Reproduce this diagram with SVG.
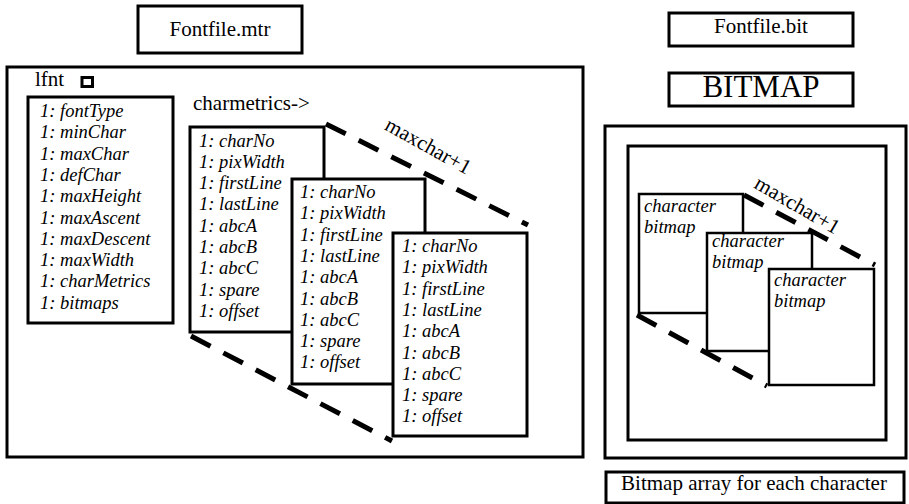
<svg xmlns="http://www.w3.org/2000/svg" width="909" height="504" viewBox="0 0 909 504">
<style>
  .box { fill: #fff; stroke: #000; stroke-width: 3; }
  .frame { fill: none; stroke: #000; stroke-width: 3; }
  .sbox { fill: #fff; stroke: #000; stroke-width: 2.5; }
  .lbl { font-family: "Liberation Serif", "Times New Roman", serif; font-size: 21px; fill: #000; }
  .big { font-family: "Liberation Serif", "Times New Roman", serif; font-size: 31px; fill: #000; }
  .it { font-family: "Liberation Serif", "Times New Roman", serif; font-size: 18.5px; font-style: italic; fill: #000; }
  .dash { fill: none; stroke: #000; stroke-width: 5; stroke-dasharray: 22 14.5; }
</style>
<rect width="909" height="504" fill="#fff"/>

<g id="fontfile-mtr">
  <rect class="box" x="138" y="6" width="164" height="47"/>
  <text class="lbl" x="220" y="36" text-anchor="middle">Fontfile.mtr</text>
</g>

<g id="lfnt">
  <rect class="box" x="7" y="67" width="576" height="390"/>
  <text class="lbl" x="35" y="86">lfnt</text>
  <rect x="82" y="77.5" width="10.5" height="9" fill="#fff" stroke="#000" stroke-width="3"/>
</g>

<g id="lfnt-fields">
  <rect class="box" x="28" y="97" width="145" height="226"/>
  <text class="it" x="40" y="117">
    <tspan x="40">1: fontType</tspan>
    <tspan x="40" dy="21.3">1: minChar</tspan>
    <tspan x="40" dy="21.3">1: maxChar</tspan>
    <tspan x="40" dy="21.3">1: defChar</tspan>
    <tspan x="40" dy="21.3">1: maxHeight</tspan>
    <tspan x="40" dy="21.3">1: maxAscent</tspan>
    <tspan x="40" dy="21.3">1: maxDescent</tspan>
    <tspan x="40" dy="21.3">1: maxWidth</tspan>
    <tspan x="40" dy="21.3">1: charMetrics</tspan>
    <tspan x="40" dy="21.3">1: bitmaps</tspan>
  </text>
</g>

<g id="charmetrics-label">
  <text class="lbl" x="193" y="110">charmetrics-&gt;</text>
</g>

<g id="fontfile-bit">
  <rect class="box" x="669" y="13" width="184" height="33"/>
  <text class="lbl" x="761" y="33" text-anchor="middle">Fontfile.bit</text>
</g>

<g id="bitmap-title">
  <rect class="box" x="669" y="73" width="184" height="33"/>
  <text class="big" x="761" y="97" text-anchor="middle">BITMAP</text>
</g>

<g id="bitmap-outer">
  <rect class="frame" x="605" y="126" width="301" height="332"/>
</g>

<g id="bitmap-inner">
  <rect class="frame" x="628" y="146" width="258" height="294"/>
</g>

<g id="connectors">
  <line class="dash" x1="326" y1="124" x2="528" y2="225"/>
  <line class="dash" x1="191" y1="336" x2="392" y2="441"/>
  <line class="dash" x1="744" y1="195" x2="875" y2="265" stroke-width="4.5"/>
  <line class="dash" x1="637" y1="315" x2="767" y2="386" stroke-width="4.5"/>
</g>

<g id="maxchar-left">
  <text class="lbl" x="425" y="152" text-anchor="middle" transform="rotate(29 425 152)">maxchar+1</text>
</g>

<g id="maxchar-right">
  <text class="lbl" x="794" y="211" text-anchor="middle" transform="rotate(30 794 211)">maxchar+1</text>
</g>

<g id="charmetric-1">
  <rect class="box" x="190" y="127" width="134" height="205"/>
  <text class="it" x="199" y="146.5">
    <tspan x="199">1: charNo</tspan>
    <tspan x="199" dy="21.3">1: pixWidth</tspan>
    <tspan x="199" dy="21.3">1: firstLine</tspan>
    <tspan x="199" dy="21.3">1: lastLine</tspan>
    <tspan x="199" dy="21.3">1: abcA</tspan>
    <tspan x="199" dy="21.3">1: abcB</tspan>
    <tspan x="199" dy="21.3">1: abcC</tspan>
    <tspan x="199" dy="21.3">1: spare</tspan>
    <tspan x="199" dy="21.3">1: offset</tspan>
  </text>
</g>

<g id="charmetric-2">
  <rect class="box" x="292" y="179" width="133" height="205"/>
  <text class="it" x="300" y="198">
    <tspan x="300">1: charNo</tspan>
    <tspan x="300" dy="21.3">1: pixWidth</tspan>
    <tspan x="300" dy="21.3">1: firstLine</tspan>
    <tspan x="300" dy="21.3">1: lastLine</tspan>
    <tspan x="300" dy="21.3">1: abcA</tspan>
    <tspan x="300" dy="21.3">1: abcB</tspan>
    <tspan x="300" dy="21.3">1: abcC</tspan>
    <tspan x="300" dy="21.3">1: spare</tspan>
    <tspan x="300" dy="21.3">1: offset</tspan>
  </text>
</g>

<g id="charmetric-3">
  <rect class="box" x="393" y="233" width="134" height="203"/>
  <text class="it" x="402" y="252">
    <tspan x="402">1: charNo</tspan>
    <tspan x="402" dy="21.3">1: pixWidth</tspan>
    <tspan x="402" dy="21.3">1: firstLine</tspan>
    <tspan x="402" dy="21.3">1: lastLine</tspan>
    <tspan x="402" dy="21.3">1: abcA</tspan>
    <tspan x="402" dy="21.3">1: abcB</tspan>
    <tspan x="402" dy="21.3">1: abcC</tspan>
    <tspan x="402" dy="21.3">1: spare</tspan>
    <tspan x="402" dy="21.3">1: offset</tspan>
  </text>
</g>

<g id="char-bitmap-1">
  <rect class="sbox" x="639" y="194" width="104" height="119"/>
  <text class="it" x="644" y="212"><tspan x="644">character</tspan><tspan x="644" dy="21">bitmap</tspan></text>
</g>

<g id="char-bitmap-2">
  <rect class="sbox" x="707" y="233" width="105" height="118"/>
  <text class="it" x="712" y="247"><tspan x="712">character</tspan><tspan x="712" dy="21">bitmap</tspan></text>
</g>

<g id="char-bitmap-3">
  <rect class="sbox" x="769" y="269" width="105" height="116"/>
  <text class="it" x="774" y="286"><tspan x="774">character</tspan><tspan x="774" dy="21">bitmap</tspan></text>
</g>

<g id="bitmap-array-label">
  <rect class="box" x="606" y="472" width="298" height="31"/>
  <text class="lbl" x="754" y="490" text-anchor="middle">Bitmap array for each character</text>
</g>
</svg>
